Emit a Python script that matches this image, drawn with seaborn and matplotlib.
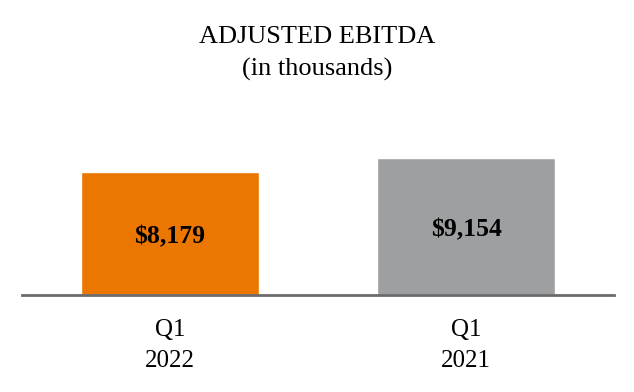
import matplotlib
matplotlib.use("Agg")
import matplotlib.pyplot as plt
import pandas as pd
import seaborn as sns

# chart data
periods = ["Q1\n2022", "Q1\n2021"]
ebitda = [8179, 9154]
bar_colors = ["#EC7700", "#9D9FA0"]

df = pd.DataFrame({"period": periods, "ebitda": ebitda})

sns.set_style("white")
plt.rcParams["font.family"] = ["Liberation Serif", "DejaVu Serif"]
plt.rcParams["text.color"] = "black"
plt.rcParams["xtick.color"] = "black"

fig = plt.figure(figsize=(6.34, 3.92), dpi=100)
ax = fig.add_axes([22 / 634, 1 - 295 / 392, 592 / 634, 180 / 392])

sns.barplot(data=df, x="period", y="ebitda", hue="period", palette=bar_colors,
            width=0.6, legend=False, ax=ax, saturation=1)

for i, v in enumerate(ebitda):
    ax.text(i, v / 2 - 200, f"${v:,}", ha="center", va="center",
            fontsize=18.5, fontweight="bold", color="black")

ax.set_xlim(-0.5, 1.5)
ax.set_ylim(0, 12000)
ax.set_xlabel("")
ax.set_ylabel("")
ax.set_yticks([])
for s in ["top", "left", "right"]:
    ax.spines[s].set_visible(False)
ax.spines["bottom"].set_color("#6B6B6B")
ax.spines["bottom"].set_linewidth(2)
ax.tick_params(axis="x", length=0, pad=17, labelsize=18)
for lbl in ax.get_xticklabels():
    lbl.set_linespacing(1.55)

fig.text(0.5, 1 - 37 / 392, "ADJUSTED EBITDA", ha="center", va="center", fontsize=19)
fig.text(0.5, 1 - 69 / 392, "(in thousands)", ha="center", va="center", fontsize=19)

fig.savefig("out.png", dpi=100)
